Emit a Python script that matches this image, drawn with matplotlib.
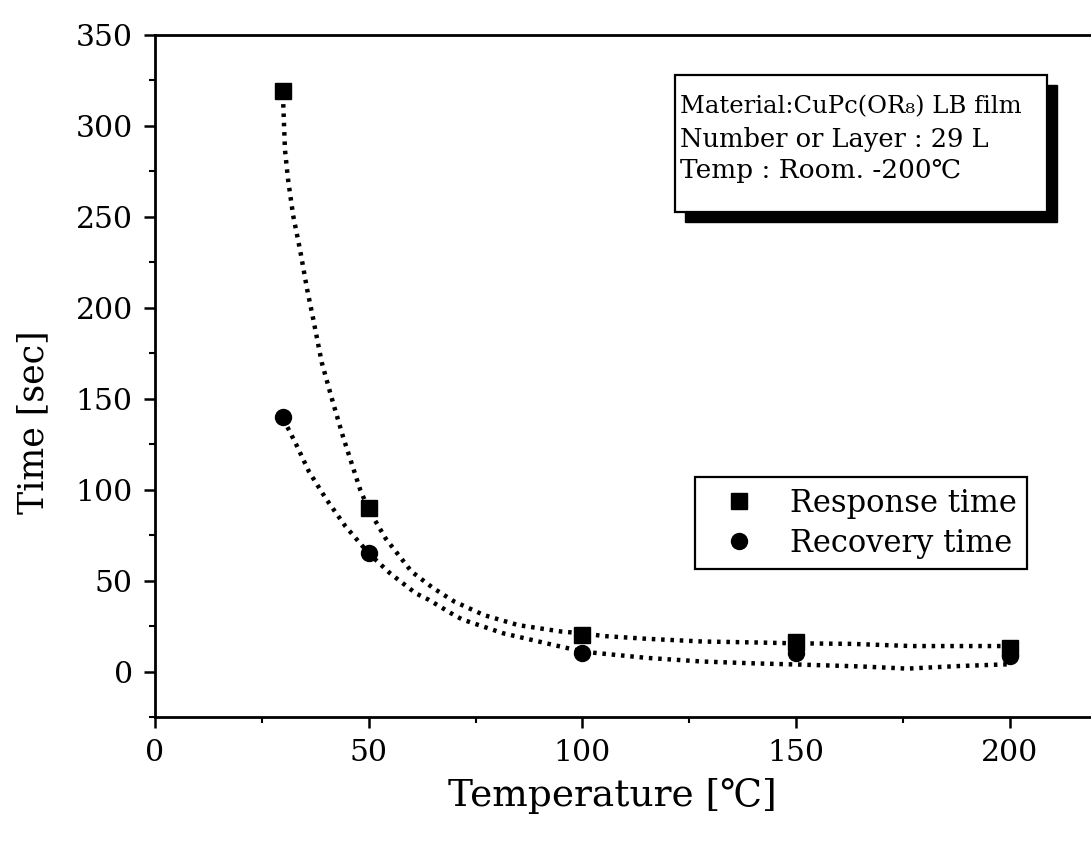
import matplotlib
matplotlib.use("Agg")
import matplotlib.pyplot as plt
from matplotlib.patches import Rectangle
from matplotlib.ticker import MultipleLocator

# measured points
resp_x = [30, 50, 100, 150, 200]
resp_y = [319, 90, 20, 16, 13]
rec_x = [30, 50, 100, 150, 200]
rec_y = [140, 65, 10, 10, 8.5]

# dotted fitted curves
resp_curve_x = [30, 30.4, 31.1, 32.3, 34, 35.6, 37, 39, 41.5, 44, 48, 50, 54, 60,
                65, 70, 77, 85, 95, 100, 105, 115, 128, 140, 150, 163, 177, 190, 200]
resp_curve_y = [312, 287, 271, 251, 231, 210, 194, 170, 149, 129, 100, 89, 73, 55,
                46, 38.5, 31, 25.5, 22, 21, 19.5, 18, 16.5, 16, 15.5, 15.2, 14, 14, 14]
rec_curve_x = [30, 33, 36, 40, 44.5, 50, 55, 61, 64, 70, 72, 81.5, 92.5, 100, 104,
               115, 128, 140, 151, 165, 176, 188, 200]
rec_curve_y = [139, 125, 110, 95, 80, 65, 54, 43, 39.5, 31, 28.5, 21, 15, 11, 10,
               7.5, 5.5, 4.5, 3.8, 2.8, 1.6, 3, 4]

info_lines = ["Material:CuPc(OR\u2088) LB film",
              "Number or Layer : 29 L",
              "Temp : Room. -200\u2103"]

plt.rcParams['font.family'] = ['DejaVu Serif', 'DejaVu Sans']

fig = plt.figure(figsize=(10.91, 8.5), dpi=100)
ax = fig.add_axes([0.1421, 0.1565, 0.8579, 0.8023])

dots = (0, (0.8, 1.3))
ax.plot(resp_curve_x, resp_curve_y, color='black', lw=3.2, linestyle=dots)
ax.plot(rec_curve_x, rec_curve_y, color='black', lw=3.2, linestyle=dots)
ax.plot(resp_x, resp_y, linestyle='none', marker='s', ms=11.5, color='black',
        label='Response time')
ax.plot(rec_x, rec_y, linestyle='none', marker='o', ms=11.5, color='black',
        label='Recovery time')

ax.set_xlim(0, 219)
ax.set_ylim(-25, 350)
ax.xaxis.set_major_locator(MultipleLocator(50))
ax.xaxis.set_minor_locator(MultipleLocator(25))
ax.yaxis.set_major_locator(MultipleLocator(50))
ax.yaxis.set_minor_locator(MultipleLocator(25))
ax.tick_params(which='major', direction='out', length=8, width=1.8,
               labelsize=21.5, pad=8)
ax.tick_params(which='minor', direction='out', length=4, width=1.5)

ax.spines['right'].set_visible(False)
for s in ['left', 'bottom', 'top']:
    ax.spines[s].set_linewidth(2)

ax.set_xlabel("Temperature [\u2103]", fontsize=27)
ax.set_ylabel("Time [sec]", fontsize=25)
ax.xaxis.set_label_coords(0.489, -0.089)
ax.yaxis.set_label_coords(-0.112, 0.433)

leg = ax.legend(loc='upper left', bbox_to_anchor=(0.577, 0.352), borderaxespad=0,
                fontsize=22, frameon=True, fancybox=False, framealpha=1,
                handlelength=2.2, handletextpad=0.55, borderpad=0.35,
                labelspacing=0.3)
leg.get_frame().set_edgecolor('black')
leg.get_frame().set_linewidth(1.6)

# info box with shadow
ax.add_patch(Rectangle((0.5663, 0.7258), 0.3974, 0.2008, transform=ax.transAxes,
                       facecolor='black', edgecolor='black', zorder=4))
ax.add_patch(Rectangle((0.5556, 0.7405), 0.3974, 0.2008, transform=ax.transAxes,
                       facecolor='white', edgecolor='black', lw=1.6, zorder=5))
ax.text(0.561, 0.8856, info_lines[0], transform=ax.transAxes, fontsize=17.5,
        va='baseline', zorder=6)
ax.text(0.561, 0.8358, info_lines[1], transform=ax.transAxes, fontsize=18.5,
        va='baseline', zorder=6)
ax.text(0.561, 0.7903, info_lines[2], transform=ax.transAxes, fontsize=19,
        va='baseline', zorder=6)

fig.savefig("out.png", dpi=100)
